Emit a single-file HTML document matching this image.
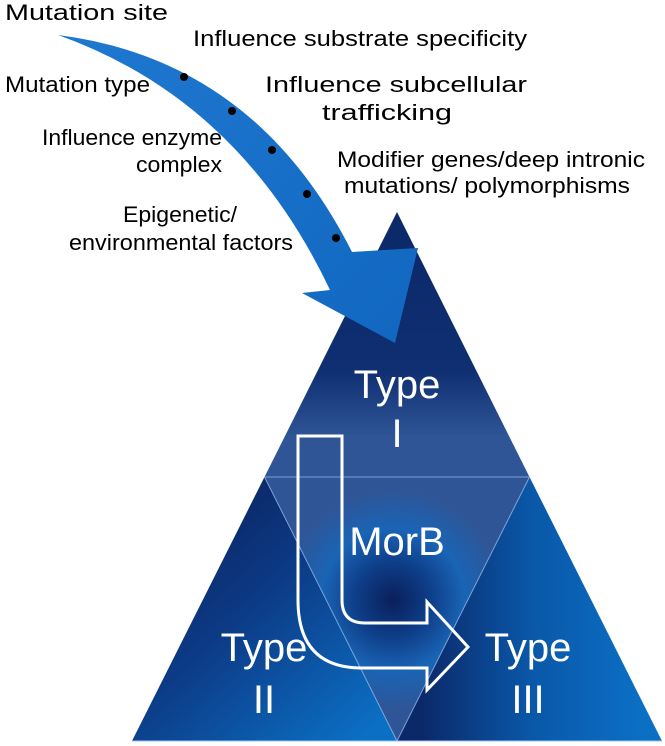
<!DOCTYPE html>
<html><head><meta charset="utf-8"><style>
html,body{margin:0;padding:0;background:#fff}
svg{display:block}
text{font-family:"Liberation Sans",sans-serif}
</style></head><body>
<svg width="665" height="746" viewBox="0 0 665 746" xmlns="http://www.w3.org/2000/svg">
<defs>
<linearGradient id="gTop" x1="0" y1="212" x2="0" y2="477" gradientUnits="userSpaceOnUse">
<stop offset="0" stop-color="#0b2868"/><stop offset="0.6" stop-color="#0f2f72"/><stop offset="0.85" stop-color="#2f5597"/><stop offset="1" stop-color="#2f5597"/>
</linearGradient>
<linearGradient id="gL" x1="180" y1="540" x2="360" y2="740" gradientUnits="userSpaceOnUse">
<stop offset="0" stop-color="#0b2868"/><stop offset="0.35" stop-color="#0c3a85"/><stop offset="1" stop-color="#0b6fc4"/>
</linearGradient>
<linearGradient id="gR" x1="420" y1="620" x2="640" y2="620" gradientUnits="userSpaceOnUse">
<stop offset="0" stop-color="#0b2868"/><stop offset="0.5" stop-color="#0a57a8"/><stop offset="1" stop-color="#0b6fc4"/>
</linearGradient>
<radialGradient id="gC" cx="393" cy="600" r="110" gradientUnits="userSpaceOnUse">
<stop offset="0" stop-color="#0a1f5a"/><stop offset="0.35" stop-color="#0e3f8a"/><stop offset="0.65" stop-color="#1a64b5"/><stop offset="1" stop-color="#2f5597"/>
</radialGradient>
<linearGradient id="gA" x1="58" y1="35" x2="400" y2="340" gradientUnits="userSpaceOnUse">
<stop offset="0" stop-color="#1f78d0"/><stop offset="1" stop-color="#1268c0"/>
</linearGradient>
</defs>
<polygon points="397,212 529.5,477 264.5,477" fill="url(#gTop)"/>
<polygon points="264.5,477 397,741 132,741" fill="url(#gL)"/>
<polygon points="529.5,477 662,741 397,741" fill="url(#gR)"/>
<polygon points="264.5,477 529.5,477 397,741" fill="url(#gC)"/>
<g stroke="#8fb4e8" stroke-width="1" fill="none" opacity="0.8">
<line x1="264.5" y1="477" x2="529.5" y2="477"/>
<line x1="264.5" y1="477" x2="397" y2="741"/>
<line x1="529.5" y1="477" x2="397" y2="741"/>
</g>
<line x1="132" y1="741" x2="662" y2="741" stroke="#9cc4f0" stroke-width="1"/>
<path d="M58,35 Q255,60 352,252 L418,248 L395,343 L302,293 L330,290 Q240,100 58,35 Z" fill="url(#gA)"/>
<g fill="#000">
<circle cx="184" cy="77" r="4"/><circle cx="232" cy="111" r="4"/><circle cx="272" cy="150" r="4"/><circle cx="307" cy="194" r="4"/><circle cx="336" cy="238" r="4"/>
</g>
<path d="M298,436 L342,436 L342,600 Q342,623 365,623 L427,623 L427,602 L468,647 L427,690 L427,668 L362,668 Q298,668 298,600 Z" fill="none" stroke="#fff" stroke-width="3"/>
<g fill="#fff" font-size="40" text-anchor="middle">
<text x="397" y="398">Type</text>
<text x="397" y="447">I</text>
<text x="397" y="555">MorB</text>
<text x="264" y="661">Type</text>
<text x="264" y="713">II</text>
<text x="528" y="661">Type</text>
<text x="528" y="713">III</text>
</g>
<g fill="#000" font-size="22" lengthAdjust="spacingAndGlyphs">
<text x="5" y="20" textLength="163" lengthAdjust="spacingAndGlyphs">Mutation site</text>
<text x="193" y="46" textLength="334" lengthAdjust="spacingAndGlyphs">Influence substrate specificity</text>
<text x="5" y="92" textLength="145" lengthAdjust="spacingAndGlyphs">Mutation type</text>
<text x="265" y="92" textLength="262" lengthAdjust="spacingAndGlyphs">Influence subcellular</text>
<text x="322" y="120" textLength="130" lengthAdjust="spacingAndGlyphs">trafficking</text>
<text x="42" y="145" textLength="180" lengthAdjust="spacingAndGlyphs">Influence enzyme</text>
<text x="136" y="172" textLength="86" lengthAdjust="spacingAndGlyphs">complex</text>
<text x="337" y="167" textLength="308" lengthAdjust="spacingAndGlyphs">Modifier genes/deep intronic</text>
<text x="344" y="193" textLength="286" lengthAdjust="spacingAndGlyphs">mutations/ polymorphisms</text>
<text x="123" y="222" textLength="114" lengthAdjust="spacingAndGlyphs">Epigenetic/</text>
<text x="69" y="250" textLength="224" lengthAdjust="spacingAndGlyphs">environmental factors</text>
</g>
</svg>
</body></html>
